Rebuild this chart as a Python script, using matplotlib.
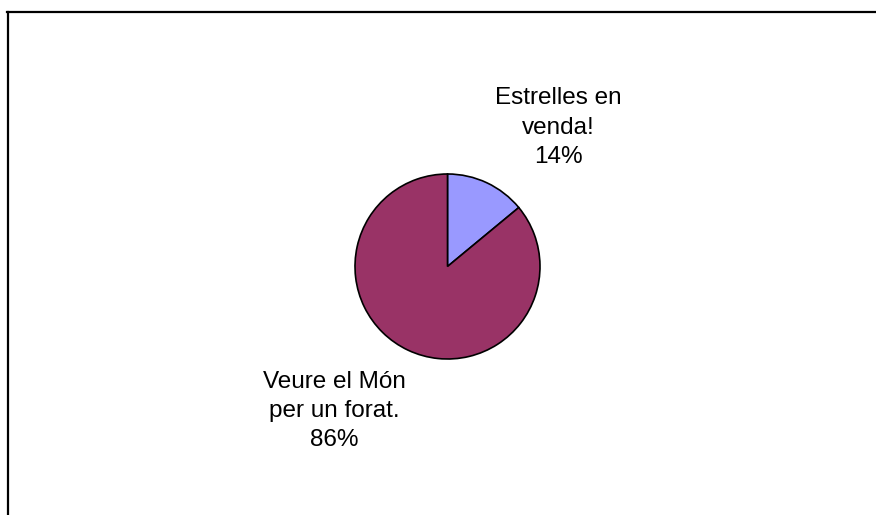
import matplotlib.pyplot as plt
from matplotlib.lines import Line2D

labels = ["Estrelles en\nvenda!", "Veure el Món\nper un forat."]
values = [14, 86]
colors = ["#9999FF", "#993366"]

W, H = 876, 515
fig = plt.figure(figsize=(W / 100, H / 100), dpi=100)
ax = fig.add_axes([0, 0, 1, 1])

cx, cy, r = 447.5, H - 266.5, 92.5
wedges, _ = ax.pie(values, colors=colors, startangle=90, counterclock=False,
                   center=(cx, cy), radius=r, frame=True,
                   wedgeprops=dict(edgecolor="black", linewidth=1.2))
ax.set_xlim(0, W)
ax.set_ylim(0, H)
ax.set_aspect("equal")
ax.axis("off")

# label positions (pixel centres of the text blocks)
label_pos = [(558, 127.5), (334, 411)]
for lab, v, (x, y) in zip(labels, values, label_pos):
    ax.text(x, H - y, f"{lab}\n{v}%", ha="center", va="center",
            fontsize=17.5, family="Liberation Sans", linespacing=1.42)

# chart-area border (top and left edges visible)
fig.add_artist(Line2D([7 / W, 1], [1 - 12 / H, 1 - 12 / H], color="black", lw=1.6,
                      transform=fig.transFigure))
fig.add_artist(Line2D([7.5 / W, 7.5 / W], [0, 1 - 12 / H], color="black", lw=1.6,
                      transform=fig.transFigure))

fig.savefig("out.png", dpi=100)
